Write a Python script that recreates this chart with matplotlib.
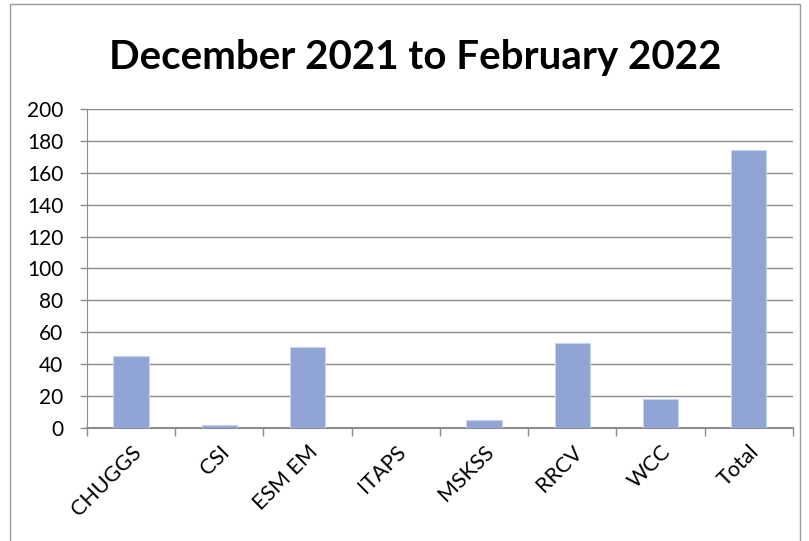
import numpy as np
import matplotlib.pyplot as plt
from matplotlib.patches import Rectangle

categories = ["CHUGGS", "CSI", "ESM EM", "ITAPS", "MSKSS", "RRCV", "WCC", "Total"]
values = [45, 2, 51, 0, 5, 53, 18, 174]
yticks = [0, 20, 40, 60, 80, 100, 120, 140, 160, 180, 200]

plt.rcParams['font.family'] = ['Lato', 'DejaVu Sans']

fig = plt.figure(figsize=(8.09, 5.41), dpi=100)
ax = fig.add_axes([0.1075, 0.209, 0.8725, 0.5895])

x = np.arange(len(categories))
ax.bar(x, values, width=0.4, color="#90a4d5", edgecolor="#c8d3ee", linewidth=0.8, zorder=3)

ax.set_xlim(-0.5, len(categories) - 0.5)
ax.set_ylim(0, 200)
ax.set_yticks(yticks)
ax.yaxis.grid(True, color="#8c8c8c", linewidth=1.0, zorder=0)

ax.set_xticks(x)
ax.set_xticklabels(categories, rotation=45, ha="right", rotation_mode="anchor", fontsize=15.5)
ax.set_xticks(np.arange(-0.5, len(categories)), minor=True)
ax.tick_params(axis="x", which="major", length=0, pad=10)
ax.tick_params(axis="x", which="minor", length=6, color="#8c8c8c", width=1)
ax.tick_params(axis="y", length=5, color="#8c8c8c", width=1, labelsize=15, pad=12)

for side in ["top", "right"]:
    ax.spines[side].set_visible(False)
ax.spines["left"].set_color("#8c8c8c")
ax.spines["bottom"].set_color("#8c8c8c")
ax.spines["bottom"].set_linewidth(1.5)

fig.text(0.513, 0.893, "December 2021 to February 2022", ha="center", va="center",
         fontsize=29, fontweight="bold")

# chart frame
fig.patches.append(Rectangle((10 / 809, -0.1), 790 / 809, 1.1 - 4 / 541, transform=fig.transFigure,
                             fill=False, edgecolor="#9a9a9a", linewidth=1))

fig.savefig("out.png", dpi=100)
